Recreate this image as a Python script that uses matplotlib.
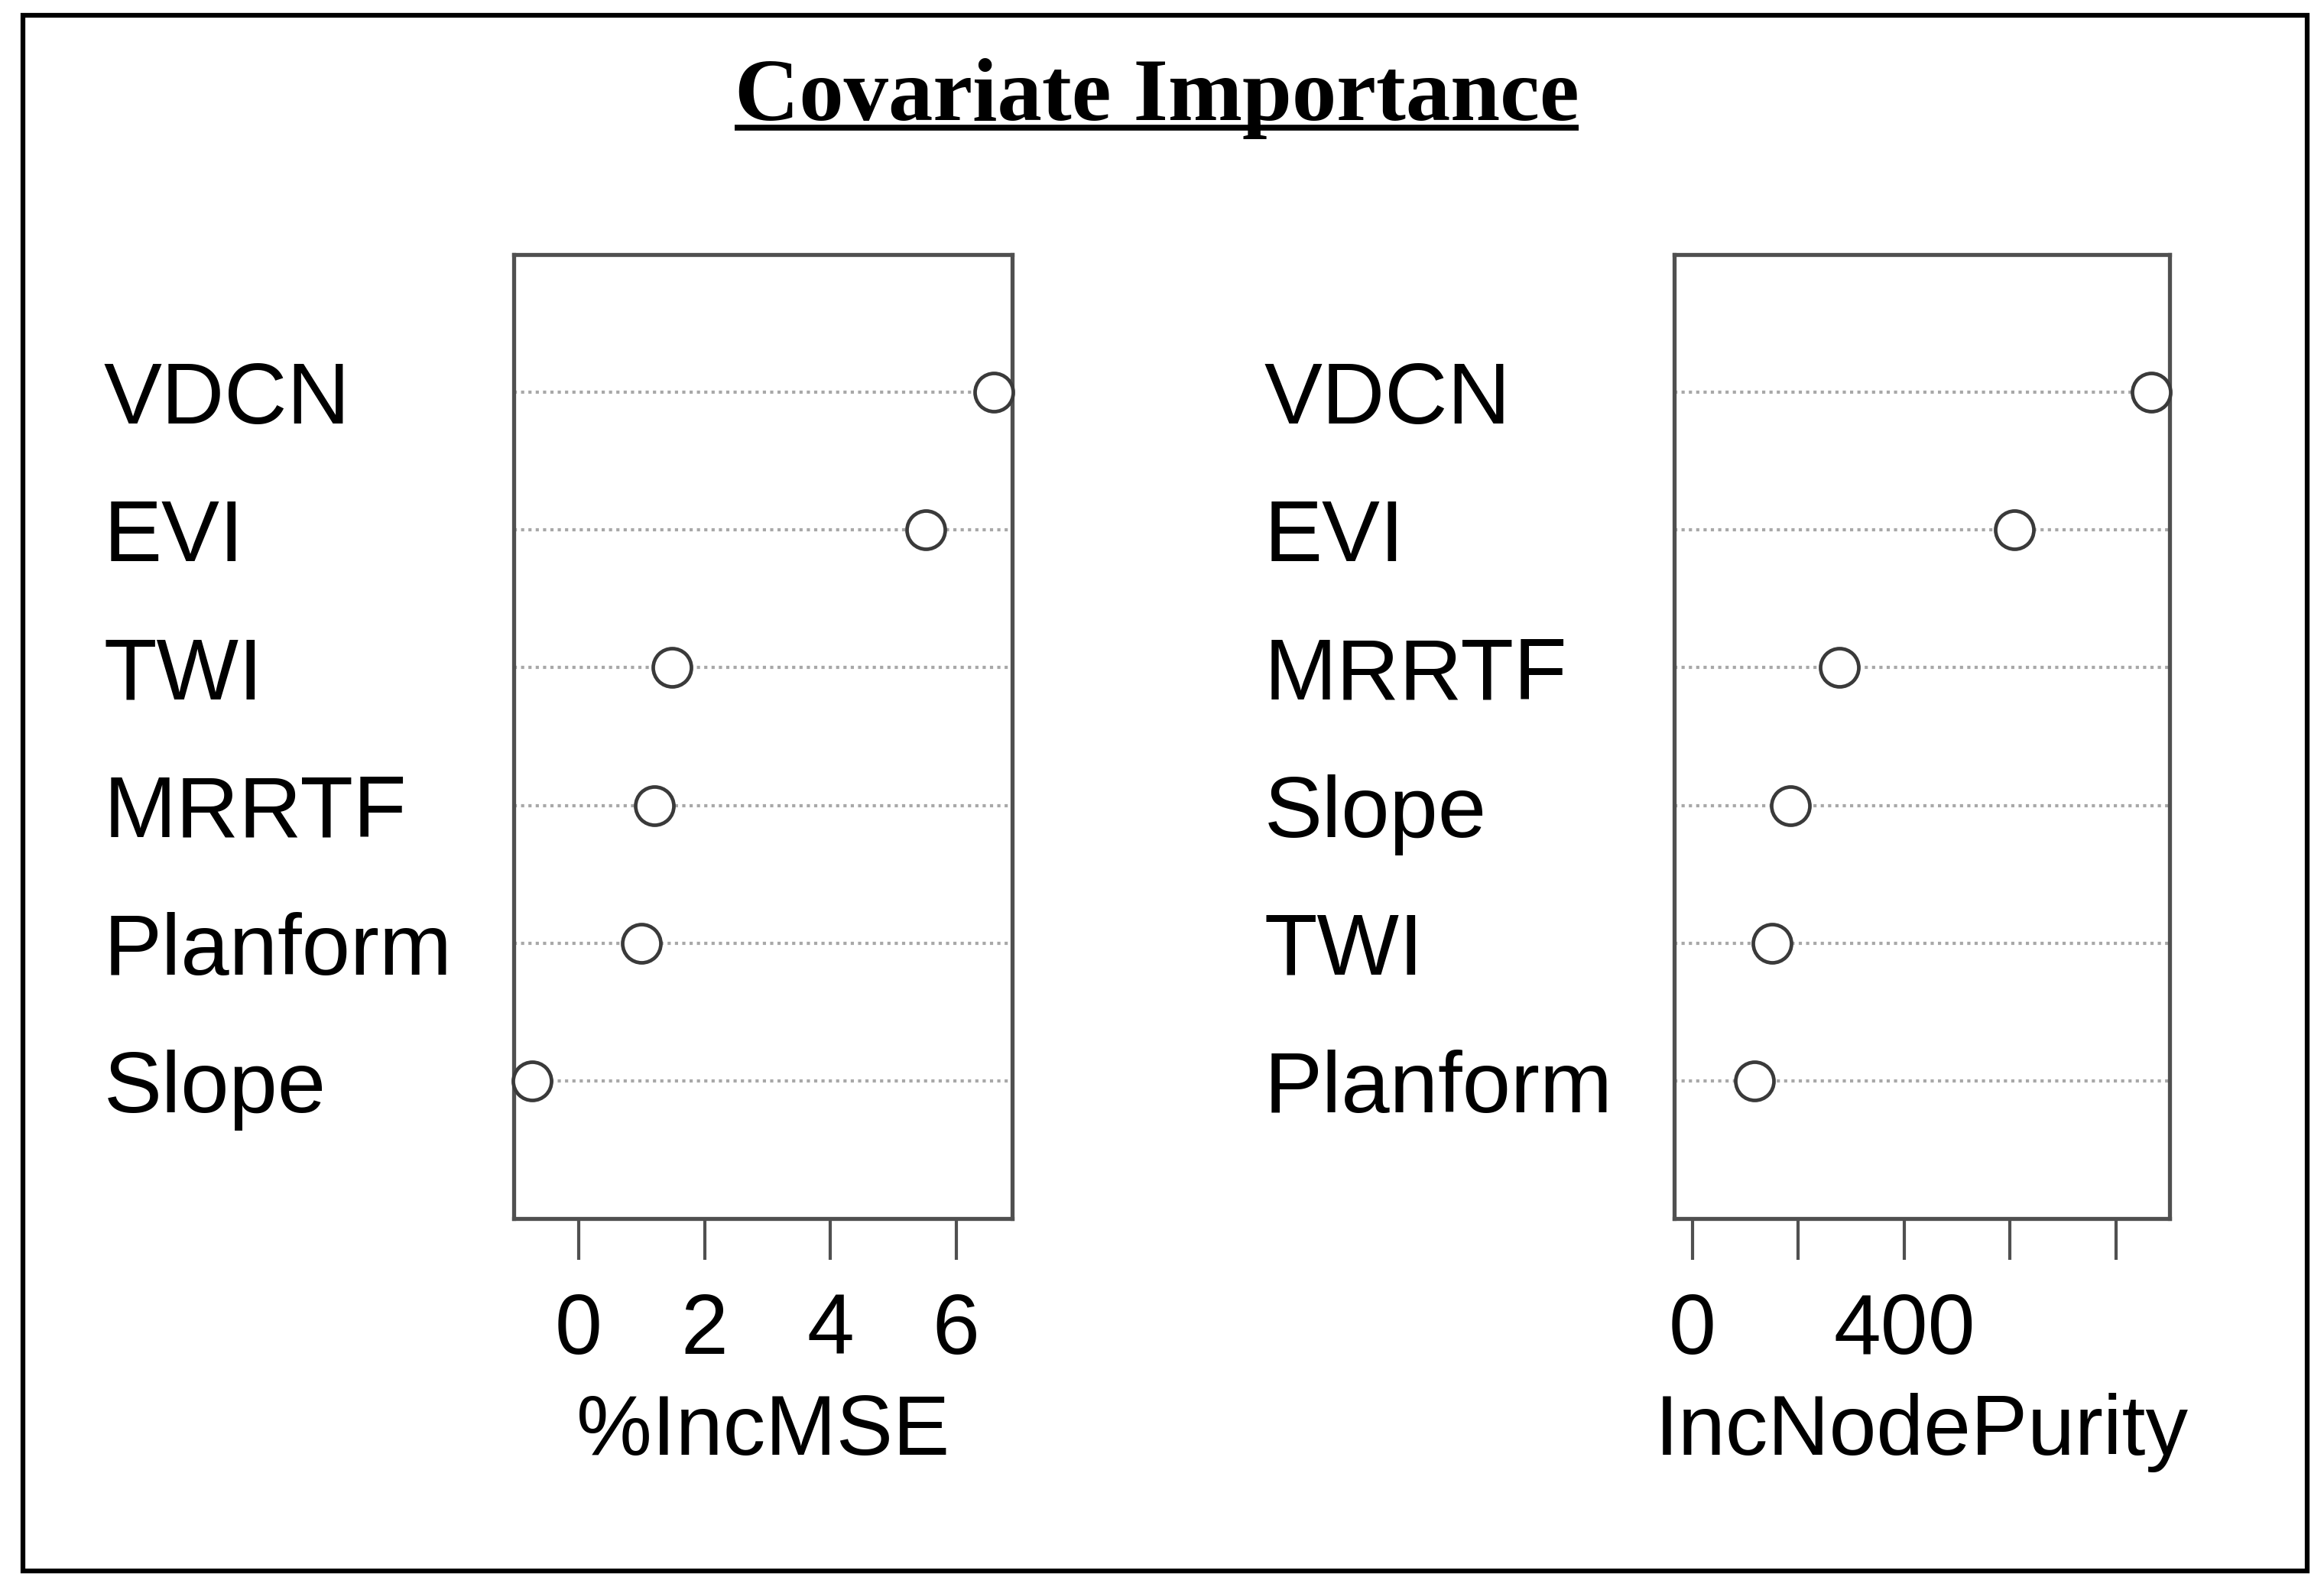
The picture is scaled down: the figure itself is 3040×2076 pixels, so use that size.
import matplotlib
matplotlib.use("Agg")
import matplotlib.pyplot as plt
from matplotlib.lines import Line2D
from matplotlib.patches import Rectangle

# ---- data (bottom row first, as in R dotchart) ----
mse_features = ["Slope", "Planform", "MRRTF", "TWI", "EVI", "VDCN"]
mse_values = [-0.74, 1.00, 1.20, 1.48, 5.52, 6.60]
mse_ticks = [0, 2, 4, 6]
mse_ticklabels = ["0", "2", "4", "6"]

np_features = ["Planform", "TWI", "Slope", "MRRTF", "EVI", "VDCN"]
np_values = [117, 150, 185, 277, 609, 867]
np_ticks = [0, 200, 400, 600, 800]
np_ticklabels = ["0", "", "400", "", ""]

title = "Covariate Importance"
xlab_left = "%IncMSE"
xlab_right = "IncNodePurity"

W, H = 3040, 2076
fig = plt.figure(figsize=(W / 100, H / 100), dpi=100)
fig.patch.set_facecolor("white")

SANS = "Liberation Sans"
FS_LAB = 82
FS_AX = 80
BOXC = "#505050"


def panel(rect, feats, vals, lo, ticks, ticklabels, xlabel):
    ax = fig.add_axes(rect)
    hi = max(vals)
    span = hi - lo
    ax.set_xlim(lo - 0.04 * span, hi + 0.04 * span)
    ax.set_ylim(0, len(feats) + 1)
    rows = list(range(1, len(feats) + 1))
    for r in rows:
        ax.axhline(r, color="#a8a8a8", lw=3.0, ls=(0, (1.0, 1.3)), zorder=1)
    ax.plot(vals, rows, ls="none", marker="o", ms=36, mfc="white",
            mec="#3a3a3a", mew=3.4, zorder=3, clip_on=False)
    for s in ax.spines.values():
        s.set_color(BOXC)
        s.set_linewidth(3.8)
    ax.set_yticks(rows)
    ax.set_yticklabels(feats, fontsize=FS_LAB, family=SANS, color="black")
    for t in ax.get_yticklabels():
        t.set_horizontalalignment("left")
    ax.tick_params(axis="y", length=0, pad=386)
    ax.set_xticks(ticks)
    ax.set_xticklabels(ticklabels, fontsize=FS_AX, family=SANS, color="black")
    ax.tick_params(axis="x", direction="out", length=39, width=3.0,
                   color=BOXC, pad=30)
    ax.set_xlabel(xlabel, fontsize=FS_AX, family=SANS, color="black",
                  labelpad=20)
    return ax


bottom = 1 - 1594 / H
height = 1261 / H
panel([672 / W, bottom, 652 / W, height], mse_features, mse_values,
      min(mse_values), mse_ticks, mse_ticklabels, xlab_left)
panel([2190 / W, bottom, 648 / W, height], np_features, np_values,
      0, np_ticks, np_ticklabels, xlab_right)

# title with underline
t = fig.text(1513 / W, 1 - 157 / H, title, ha="center", va="baseline",
             family="Liberation Serif", fontweight="bold", fontsize=84,
             color="black")
fig.canvas.draw()
bb = t.get_window_extent().transformed(fig.transFigure.inverted())
uy = 1 - 167 / H
fig.add_artist(Line2D([bb.x0, bb.x1], [uy, uy], transform=fig.transFigure,
                      color="black", lw=5.5, solid_capstyle="butt"))

# outer border
fig.add_artist(Rectangle((30 / W, 1 - 2055 / H), (3018 - 30) / W,
                         (2055 - 20) / H, transform=fig.transFigure,
                         fill=False, edgecolor="black", lw=4.5))

fig.savefig("out.png", dpi=100, facecolor="white")
